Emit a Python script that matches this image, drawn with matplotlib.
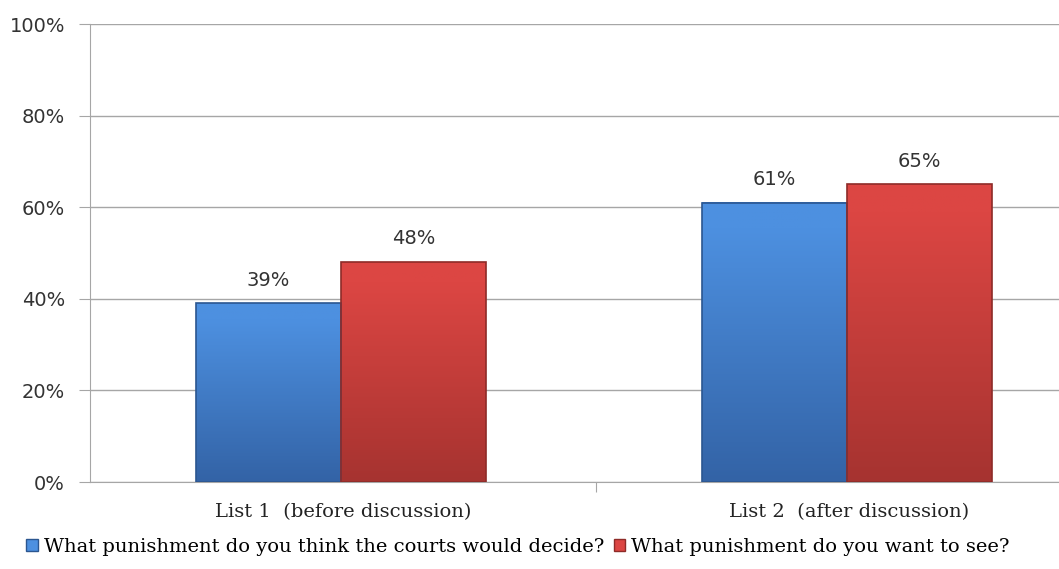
import numpy as np
import matplotlib.pyplot as plt
from matplotlib.colors import LinearSegmentedColormap
from matplotlib.patches import Patch

# Data
categories = ["List 1  (before discussion)", "List 2  (after discussion)"]
series_names = ["What punishment do you think the courts would decide?",
                "What punishment do you want to see?"]
courts = [39, 61]
want = [48, 65]
yticks = [0, 20, 40, 60, 80, 100]

# bar colours: (top, bottom, edge)
blue = ("#4d90e0", "#3363a6", "#2b5690")
red = ("#dc4643", "#a63330", "#8e2b28")

fig = plt.figure(figsize=(10.59, 5.69), dpi=100)
ax = fig.add_axes([90 / 1059, 1 - 482 / 569, 1012 / 1059, 458 / 569])

x = np.arange(len(categories))
w = 0.286

for vals, off, col in [(courts, -w / 2, blue), (want, w / 2, red)]:
    cmap = LinearSegmentedColormap.from_list("g", [col[1], col[0]])
    bars = ax.bar(x + off - 0.004, vals, w, color="none", edgecolor=col[2], linewidth=1.2, zorder=3)
    for b, v in zip(bars, vals):
        x0, y0 = b.get_x(), b.get_y()
        grad = np.linspace(0, 1, 200).reshape(-1, 1)
        grad = np.clip(grad * 1.1, 0, 1)
        grad[-4:] = 1
        ax.imshow(grad, extent=[x0, x0 + w, y0, y0 + v], origin="lower",
                  aspect="auto", cmap=cmap, vmin=0, vmax=1, zorder=2)
        ax.text(x0 + w / 2, v + 3.0, f"{v}%", ha="center", va="bottom",
                fontsize=14, color="#333333", family="DejaVu Sans")

ax.set_xlim(-0.5, 1.5)
ax.set_ylim(0, 100)

ax.set_yticks(yticks)
ax.set_yticklabels([f"{t}%" for t in yticks], fontsize=14, color="#333333")
ax.yaxis.grid(True, color="#a6a6a6", linewidth=1)
ax.set_axisbelow(True)

ax.set_xticks([0.5], minor=False)
ax.set_xticklabels([])
ax.set_xticks(x, minor=True)
ax.set_xticklabels(categories, minor=True, fontsize=14, family="DejaVu Serif", color="#222222")
ax.tick_params(axis="x", which="minor", length=0, pad=15)
ax.tick_params(axis="x", which="major", length=7, color="#a6a6a6")
ax.tick_params(axis="y", length=8, color="#a6a6a6", pad=10)

for s in ["top", "right"]:
    ax.spines[s].set_visible(False)
for s in ["left", "bottom"]:
    ax.spines[s].set_color("#a6a6a6")

handles = [Patch(facecolor=blue[0], edgecolor=blue[2]), Patch(facecolor=red[0], edgecolor=red[2])]
fig.legend(handles, series_names, loc="center left", bbox_to_anchor=(26 / 1059, 1 - 547 / 569),
           ncol=2, frameon=False, prop={"family": "DejaVu Serif", "size": 14},
           handlelength=0.6, handleheight=0.6, handletextpad=0.3, columnspacing=0.5,
           borderaxespad=0, borderpad=0)

fig.savefig("out.png", dpi=100)
